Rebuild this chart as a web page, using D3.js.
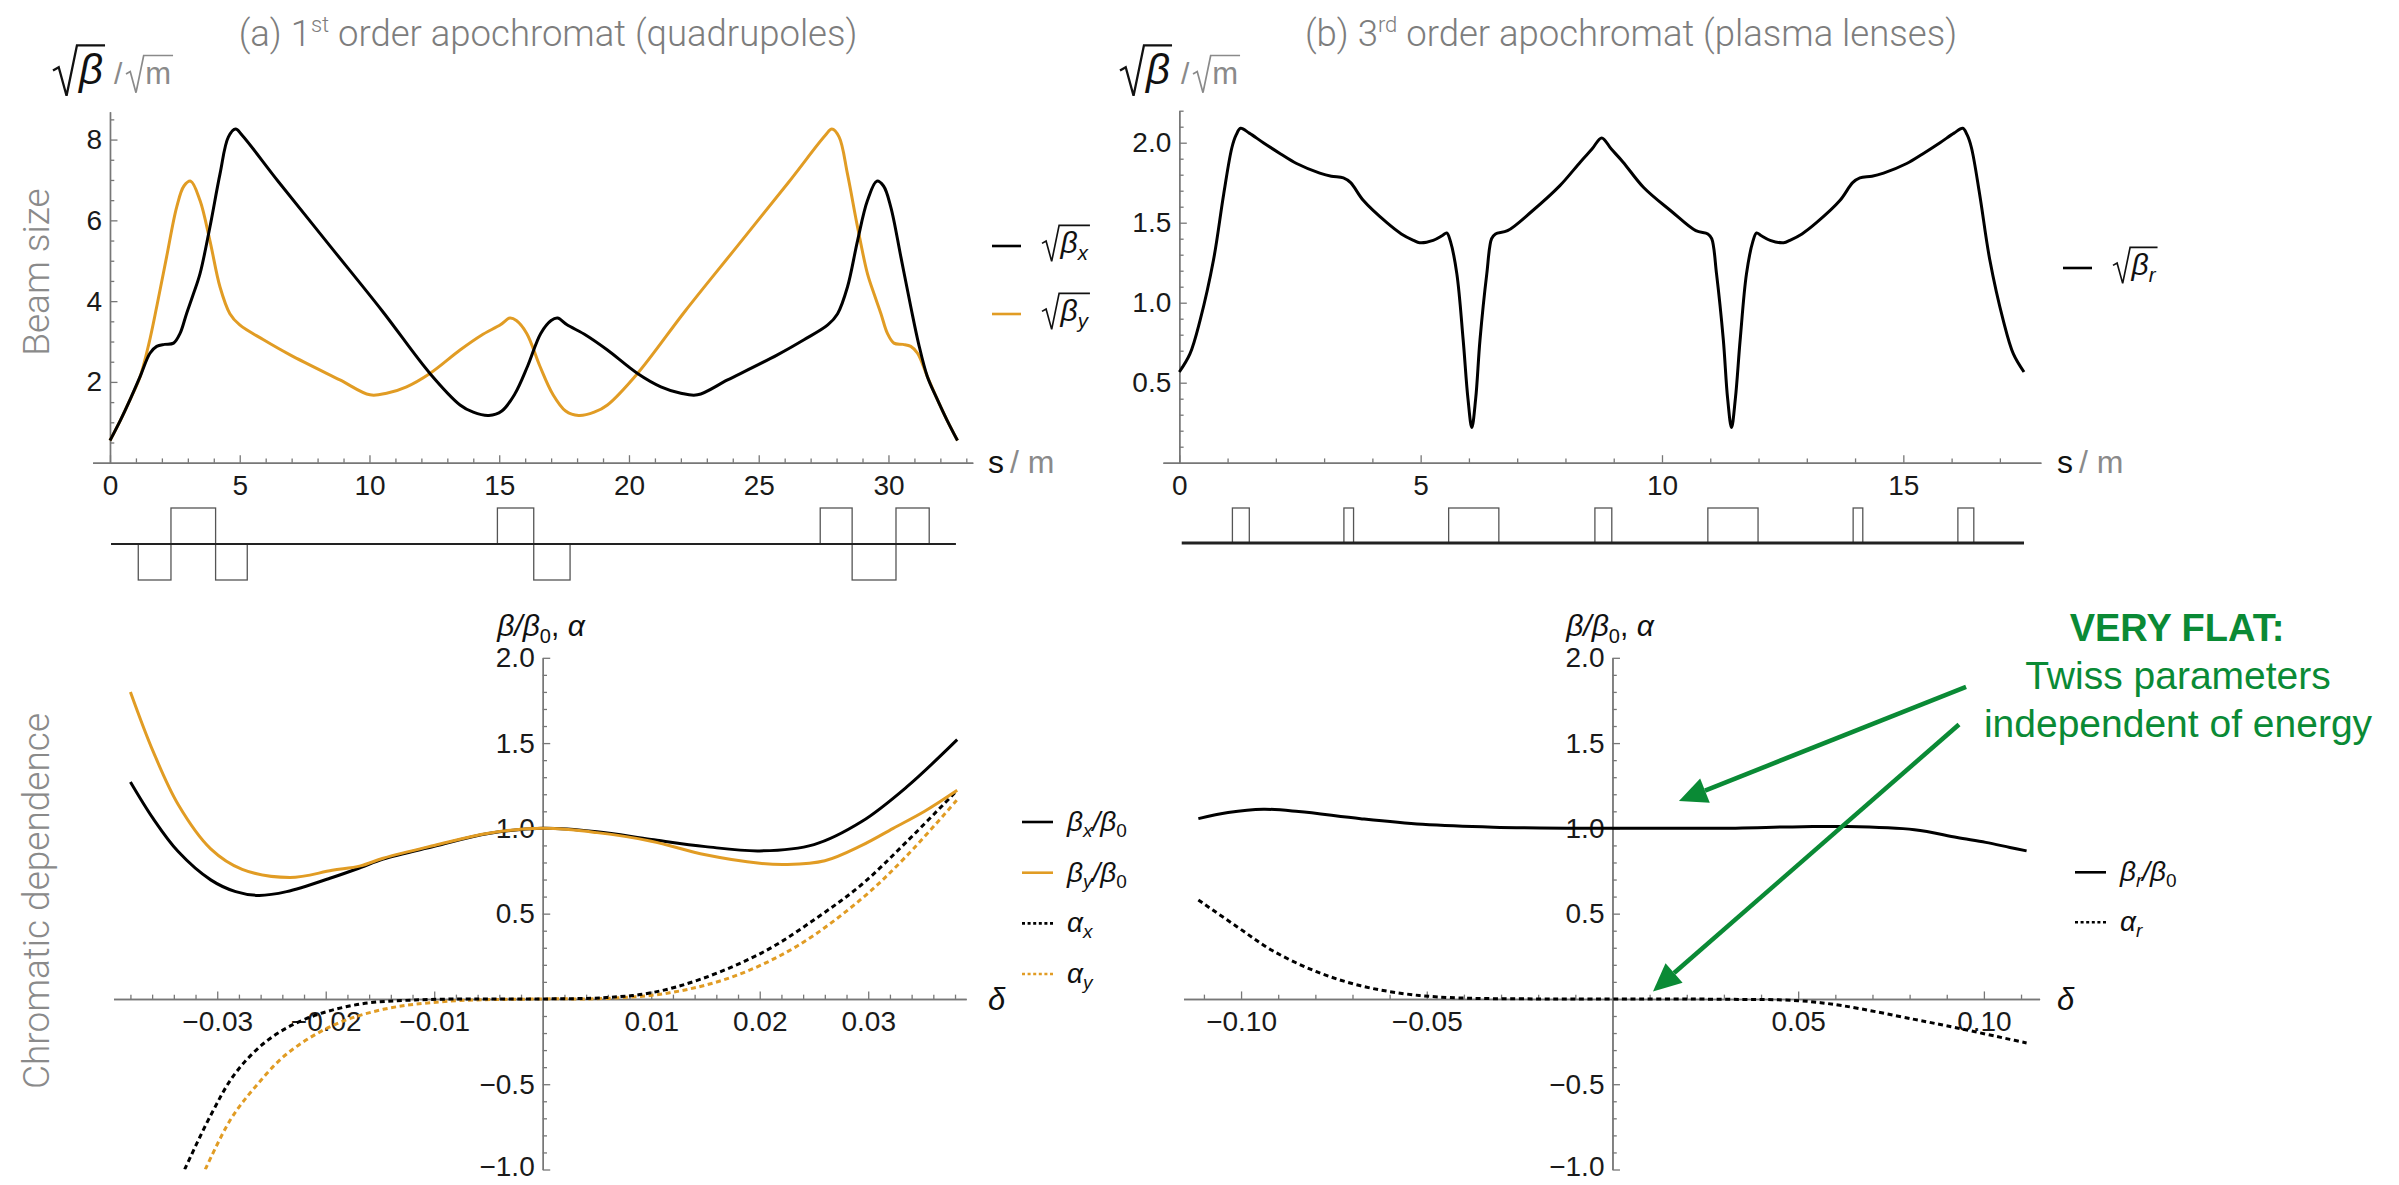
<!DOCTYPE html>
<html>
<head>
<meta charset="utf-8">
<script src="https://cdn.jsdelivr.net/npm/d3@7"></script>
<style>
  html, body { margin: 0; padding: 0; background: #fff; }
  svg { display: block; font-family: "Liberation Sans", Arial, sans-serif; }
</style>
</head>
<body>
<svg id="chart" width="2399" height="1185"></svg>
<script>
// ---- data ----
// (a) sqrt(beta) along the quadrupole lattice, [s in m, value]
const sqrtBetaXa = [[0,0.55],[0.4,1.05],[0.8,1.6],[1.16,2.13],[1.54,2.71],[1.8,2.88],[2.1,2.93],[2.45,2.96],[2.7,3.2],[2.95,3.69],[3.2,4.15],[3.47,4.68],[3.85,5.83],[4.24,7.15],[4.56,8.06],[4.84,8.26],[5.1,8.1],[6.5,6.95],[8.5,5.35],[10.5,3.75],[12.33,2.21],[13.49,1.43],[14.0,1.25],[14.6,1.17],[15.1,1.28],[15.6,1.7],[16.1,2.4],[16.6,3.2],[17.0,3.52],[17.25,3.58],[17.6,3.42],[18.36,3.15],[19.17,2.79],[20.33,2.21],[21.23,1.88],[22.0,1.72],[22.64,1.68],[23.8,2.05],[25.72,2.67],[26.76,3.05],[27.66,3.41],[28.04,3.69],[28.42,4.35],[28.81,5.5],[29.19,6.49],[29.55,6.97],[29.81,6.85],[30.09,6.33],[30.48,5.09],[30.86,3.86],[31.16,2.95],[31.5,2.13],[31.86,1.6],[32.26,1.05],[32.66,0.55]];
const sqrtBetaYa = [[0,0.55],[0.4,1.05],[0.8,1.6],[1.16,2.13],[1.5,2.95],[1.8,3.86],[2.18,5.09],[2.57,6.33],[2.85,6.85],[3.11,6.97],[3.47,6.49],[3.85,5.5],[4.24,4.35],[4.62,3.69],[5.0,3.41],[5.9,3.05],[6.94,2.67],[8.86,2.05],[10.02,1.68],[10.66,1.72],[11.43,1.88],[12.33,2.21],[13.49,2.79],[14.3,3.15],[15.06,3.42],[15.41,3.58],[15.66,3.52],[16.06,3.2],[16.56,2.4],[17.06,1.7],[17.56,1.28],[18.06,1.17],[18.66,1.25],[19.17,1.43],[20.33,2.21],[22.16,3.75],[24.16,5.35],[26.16,6.95],[27.56,8.1],[27.82,8.26],[28.1,8.06],[28.42,7.15],[28.81,5.83],[29.19,4.68],[29.46,4.15],[29.71,3.69],[29.96,3.2],[30.21,2.96],[30.56,2.93],[30.86,2.88],[31.12,2.71],[31.5,2.13],[31.86,1.6],[32.26,1.05],[32.66,0.55]];
// (b) sqrt(beta_r) along the plasma-lens lattice
const sqrtBetaRb = [[0,0.567],[0.22,0.68],[0.43,0.89],[0.71,1.27],[0.92,1.68],[1.09,1.97],[1.18,2.05],[1.27,2.09],[1.45,2.06],[1.74,2.0],[2.1,1.93],[2.43,1.87],[2.91,1.81],[3.15,1.79],[3.4,1.78],[3.55,1.75],[3.81,1.64],[4.3,1.5],[4.6,1.43],[4.85,1.39],[4.98,1.375],[5.26,1.39],[5.45,1.42],[5.54,1.436],[5.62,1.38],[5.75,1.18],[5.88,0.77],[5.98,0.4],[6.06,0.22],[6.14,0.4],[6.23,0.77],[6.37,1.18],[6.47,1.4],[6.55,1.43],[6.8,1.45],[7.3,1.57],[7.88,1.73],[8.31,1.88],[8.55,1.96],[8.75,2.03],[8.95,1.96],[9.19,1.88],[9.62,1.72],[10.2,1.57],[10.7,1.45],[10.95,1.43],[11.03,1.4],[11.13,1.18],[11.27,0.77],[11.36,0.4],[11.44,0.22],[11.52,0.4],[11.62,0.77],[11.75,1.18],[11.88,1.38],[11.96,1.436],[12.05,1.42],[12.24,1.39],[12.52,1.375],[12.65,1.39],[12.9,1.43],[13.2,1.5],[13.69,1.64],[13.95,1.75],[14.1,1.78],[14.35,1.79],[14.59,1.81],[15.07,1.87],[15.4,1.93],[15.76,2.0],[16.05,2.06],[16.23,2.09],[16.32,2.05],[16.41,1.97],[16.58,1.68],[16.79,1.27],[17.07,0.89],[17.28,0.68],[17.5,0.567]];

// lattice elements: [start s, end s, polarity]
const quadsA = [[1.09,2.35,-1],[2.35,4.07,1],[4.07,5.29,-1],[14.93,16.33,1],[16.33,17.73,-1],[27.37,28.6,1],[28.6,30.29,-1],[30.29,31.57,1]];
const lensesB = [[1.10,1.45,1],[3.41,3.61,1],[5.58,6.62,1],[8.61,8.96,1],[10.95,11.99,1],[13.96,14.16,1],[16.13,16.46,1]];
const latticeEndA = [0.04, 32.6];
const latticeEndB = [0.05, 17.5];

// chromatic dependence, [delta, value]
const betaXChromA = [[-0.038,1.272],[-0.0359,1.057],[-0.0336,0.864],[-0.0306,0.698],[-0.0283,0.629],[-0.0262,0.607],[-0.0236,0.629],[-0.0194,0.712],[-0.0168,0.77],[-0.0147,0.82],[-0.01,0.895],[-0.005,0.97],[0,1.0],[0.005,0.98],[0.01,0.935],[0.015,0.893],[0.02,0.868],[0.025,0.905],[0.0294,1.04],[0.0335,1.24],[0.0382,1.52]];
const betaYChromA = [[-0.038,1.80],[-0.0359,1.45],[-0.0336,1.14],[-0.0306,0.88],[-0.0277,0.76],[-0.0233,0.712],[-0.0194,0.754],[-0.0168,0.78],[-0.0147,0.825],[-0.01,0.9],[-0.005,0.972],[0,1.0],[0.005,0.975],[0.01,0.925],[0.015,0.845],[0.02,0.795],[0.0225,0.788],[0.026,0.81],[0.0294,0.9],[0.0323,1.0],[0.0352,1.1],[0.0382,1.223]];
const alphaXChromA = [[-0.033,-1.0],[-0.0306,-0.682],[-0.0283,-0.433],[-0.0253,-0.24],[-0.0218,-0.116],[-0.0171,-0.033],[-0.0118,-0.006],[-0.0059,0],[0,0],[0.00585,0.008],[0.01,0.036],[0.0147,0.119],[0.0206,0.284],[0.0253,0.477],[0.0294,0.671],[0.0335,0.919],[0.0382,1.223]];
const alphaYChromA = [[-0.0311,-1.0],[-0.0288,-0.71],[-0.0265,-0.516],[-0.0236,-0.323],[-0.0194,-0.157],[-0.0147,-0.061],[-0.0088,-0.014],[0,0],[0.0059,0.003],[0.0117,0.036],[0.0176,0.132],[0.0235,0.312],[0.0294,0.588],[0.0335,0.836],[0.0382,1.168]];
const betaRChromB = [[-0.1115,1.057],[-0.1035,1.093],[-0.094,1.112],[-0.0845,1.099],[-0.0678,1.057],[-0.0512,1.024],[-0.0321,1.007],[0,1.0],[0.0274,1.0],[0.0512,1.01],[0.062,1.011],[0.0813,0.992],[0.0928,0.946],[0.1005,0.918],[0.107,0.888],[0.1115,0.868]];
const alphaRChromB = [[-0.1115,0.58],[-0.101,0.422],[-0.0916,0.284],[-0.0797,0.16],[-0.0678,0.077],[-0.0559,0.03],[-0.044,0.008],[-0.02,0],[0,0],[0.03,-0.002],[0.05,-0.01],[0.062,-0.04],[0.0813,-0.12],[0.0928,-0.17],[0.107,-0.237],[0.1115,-0.258]];

// ticks
const sTicksA = [0,5,10,15,20,25,30];
const sTicksB = [0,5,10,15];
const beamTicksA = [2,4,6,8];
const beamTicksB = [0.5,1.0,1.5,2.0];
const deltaTicksA = [-0.03,-0.02,-0.01,0.01,0.02,0.03];
const deltaTicksB = [-0.10,-0.05,0.05,0.10];
const chromTicks = [-1.0,-0.5,0.5,1.0,1.5,2.0];

// annotation arrows in panel (b) data units: [tail, tip]
const flatArrows = [[[0.0952,1.83],[0.0179,1.161]],[[0.0933,1.609],[0.0109,0.044]]];

const ORANGE = "#e19c24", AXIS = "#777", GREY = "#8a8a8a", GREEN = "#0a8a35";

const svg = d3.select("#chart");

// ---- scales ----
const xA = d3.scaleLinear([-0.67, 33.25], [92.6, 972.8]);
const yA = d3.scaleLinear([0, 8.69], [462.7, 111.7]);
const xB = d3.scaleLinear([-0.34, 17.85], [1162.9, 2040.9]);
const yB = d3.scaleLinear([0, 2.2], [462.7, 110.7]);
const dA = d3.scaleLinear([-0.03956, 0.03903], [113.5, 966.2]);
const dB = d3.scaleLinear([-0.1155, 0.115], [1183.5, 2039.6]);
const cY = d3.scaleLinear([-1, 2], [1169.5, 657.8]);
const latA = d3.scaleLinear([-1, 1], [580, 508]);
const latB = d3.scaleLinear([0, 1], [543, 508]);

function minorsOf(lo, hi, step, majors) {
  return d3.range(Math.round(lo / step), Math.round(hi / step) + 1)
    .map(i => +(i * step).toFixed(4))
    .filter(v => v !== 0 && !majors.some(m => Math.abs(m - v) < step / 10));
}

function styleAxis(g, size) {
  g.select(".domain").attr("stroke", AXIS).attr("stroke-width", 1.4);
  g.selectAll(".tick line").attr("stroke", AXIS).attr("stroke-width", 1.3);
  g.selectAll(".tick text").attr("font-size", size).attr("fill", "#1a1a1a")
    .attr("font-family", "'Liberation Sans', Arial, sans-serif");
  g.attr("font-family", null).attr("font-size", null);
}

function xAxis(scale, yPos, majors, minors, fmt) {
  const g1 = svg.append("g").attr("transform", `translate(0,${yPos})`)
    .call(d3.axisBottom(scale).tickValues(minors).tickSize(-4.3).tickSizeOuter(0).tickFormat(""));
  styleAxis(g1, 28);
  const g2 = svg.append("g").attr("transform", `translate(0,${yPos})`)
    .call(d3.axisBottom(scale).tickValues(majors).tickSize(-7.5).tickSizeOuter(0).tickPadding(12).tickFormat(d3.format(fmt)));
  styleAxis(g2, 28);
}

function yAxis(scale, xPos, majors, minors, fmt) {
  const g1 = svg.append("g").attr("transform", `translate(${xPos},0)`)
    .call(d3.axisLeft(scale).tickValues(minors).tickSize(-4.3).tickSizeOuter(0).tickFormat(""));
  styleAxis(g1, 28);
  const g2 = svg.append("g").attr("transform", `translate(${xPos},0)`)
    .call(d3.axisLeft(scale).tickValues(majors).tickSize(-7.5).tickSizeOuter(0).tickPadding(8).tickFormat(d3.format(fmt)));
  styleAxis(g2, 28);
  return g2;
}

// radical sign drawn as a path over a text radicand
function sqrtText(g, x0, base, size, color, build) {
  const signW = size * 0.62;
  const t = g.append("text").attr("x", x0 + signW).attr("y", base)
    .attr("font-size", size).attr("fill", color);
  build(t, size);
  const w = t.node().getComputedTextLength();
  const top = base - size * 0.92, bot = base + size * 0.28;
  g.append("path")
    .attr("d", `M${x0},${base - size * 0.32}L${x0 + signW * 0.22},${base - size * 0.4}L${x0 + signW * 0.52},${bot}L${x0 + signW * 0.92},${top}H${x0 + signW + w + 2}`)
    .attr("fill", "none").attr("stroke", color).attr("stroke-width", size * 0.055)
    .attr("stroke-linejoin", "miter");
  return x0 + signW + w;
}

function betaSub(t, size, sub) {
  t.append("tspan").attr("font-style", "italic").text("β");
  t.append("tspan").attr("font-style", "italic").attr("font-size", size * 0.68).attr("dy", size * 0.22).text(sub);
}

// ---- titles ----
function title(cx, lead, sup, rest) {
  const t = svg.append("text").attr("x", cx).attr("y", 46).attr("text-anchor", "middle")
    .attr("font-family", "Roboto, 'Liberation Sans', sans-serif").attr("font-weight", 300)
    .attr("font-size", 36.5).attr("fill", "#7d7d7d");
  t.append("tspan").text(lead);
  t.append("tspan").attr("font-size", 22).attr("dy", -14).text(sup);
  t.append("tspan").attr("dy", 14).text(rest);
}
title(548, "(a)  1", "st", " order apochromat (quadrupoles)");
title(1631, "(b)  3", "rd", " order apochromat (plasma lenses)");

// ---- row labels ----
[["Beam size", 272], ["Chromatic dependence", 901]].forEach(([txt, cy]) => {
  svg.append("text").attr("transform", `translate(49,${cy}) rotate(-90)`)
    .attr("text-anchor", "middle").attr("font-size", 37).attr("fill", GREY)
    .attr("font-family", "Roboto, 'Liberation Sans', sans-serif").attr("font-weight", 300)
    .text(txt);
});

// ---- top panels ----
function topUnitLabel(x0) {
  const g = svg.append("g");
  sqrtText(g, x0, 84, 42, "#111", (t) => t.append("tspan").attr("font-style", "italic").text("β"));
  g.append("text").attr("x", x0 + 61).attr("y", 84).attr("font-size", 30).attr("fill", GREY).text("/");
  sqrtText(g, x0 + 73, 84, 31, GREY, (t) => t.text("m"));
}
function sUnitLabel(x0, y0) {
  const t = svg.append("text").attr("x", x0).attr("y", y0 + 10).attr("font-size", 32);
  t.append("tspan").attr("fill", "#111").text("s");
  t.append("tspan").attr("fill", GREY).attr("dx", 6).text("/ m");
}

xAxis(xA, yA(0), sTicksA, minorsOf(0, 33, 1, sTicksA), "d");
yAxis(yA, xA(0), beamTicksA, minorsOf(0, 8.5, 0.5, beamTicksA), "d");
xAxis(xB, yB(0), sTicksB, minorsOf(0, 17, 1, sTicksB), "d");
yAxis(yB, xB(0), beamTicksB, minorsOf(0, 2.2, 0.1, beamTicksB), ".1f");
topUnitLabel(53);
topUnitLabel(1120);
sUnitLabel(988, yA(0));
sUnitLabel(2057, yB(0));

const lineA = d3.line().x(d => xA(d[0])).y(d => yA(d[1])).curve(d3.curveCatmullRom.alpha(0.5));
const lineB = d3.line().x(d => xB(d[0])).y(d => yB(d[1])).curve(d3.curveCatmullRom.alpha(0.5));
svg.append("path").datum(sqrtBetaYa).attr("d", lineA).attr("fill", "none").attr("stroke", ORANGE).attr("stroke-width", 3);
svg.append("path").datum(sqrtBetaXa).attr("d", lineA).attr("fill", "none").attr("stroke", "#000").attr("stroke-width", 3);
svg.append("path").datum(sqrtBetaRb).attr("d", lineB).attr("fill", "none").attr("stroke", "#000").attr("stroke-width", 3);

// top legends
function topLegend(x0, rows) {
  rows.forEach(([color, sub, yc]) => {
    svg.append("line").attr("x1", x0).attr("x2", x0 + 29).attr("y1", yc).attr("y2", yc)
      .attr("stroke", color).attr("stroke-width", 2.6);
    sqrtText(svg.append("g"), x0 + 50, yc + 7, 30, "#111", (t, s) => betaSub(t, s, sub));
  });
}
topLegend(992, [["#000", "x", 246], [ORANGE, "y", 314]]);
topLegend(2063, [["#000", "r", 268]]);

// lattices
function lattice(xs, ys, elems, ends, baseW) {
  const g = svg.append("g");
  g.selectAll("rect").data(elems).join("rect")
    .attr("x", d => xs(d[0])).attr("width", d => xs(d[1]) - xs(d[0]))
    .attr("y", d => Math.min(ys(0), ys(d[2]))).attr("height", d => Math.abs(ys(d[2]) - ys(0)))
    .attr("fill", "none").attr("stroke", "#555").attr("stroke-width", 1.3);
  g.append("line").attr("x1", xs(ends[0])).attr("x2", xs(ends[1]))
    .attr("y1", ys(0)).attr("y2", ys(0)).attr("stroke", "#222").attr("stroke-width", baseW);
}
lattice(xA, latA, quadsA, latticeEndA, 2.2);
lattice(xB, latB, lensesB, latticeEndB, 3);

// ---- bottom panels ----
svg.append("defs").selectAll("clipPath").data([["clipA", dA], ["clipB", dB]]).join("clipPath")
  .attr("id", d => d[0])
  .append("rect").attr("x", d => d[1].range()[0]).attr("width", d => d[1].range()[1] - d[1].range()[0])
  .attr("y", cY(2)).attr("height", cY(-1) - cY(2));

function chromLabel(cx) {
  const t = svg.append("text").attr("x", cx).attr("y", 636).attr("text-anchor", "middle")
    .attr("font-size", 30).attr("fill", "#111");
  t.append("tspan").attr("font-style", "italic").text("β/β");
  t.append("tspan").attr("font-size", 20).attr("dy", 7).text("0");
  t.append("tspan").attr("dy", -7).text(", ");
  t.append("tspan").attr("font-style", "italic").text("α");
}
function deltaLabel(x0) {
  svg.append("text").attr("x", x0).attr("y", cY(0) + 11).attr("font-size", 31)
    .attr("font-style", "italic").attr("fill", "#111").text("δ");
}

xAxis(dA, cY(0), deltaTicksA, minorsOf(-0.038, 0.038, 0.002, deltaTicksA), ".2f");
const yAxA = yAxis(cY, dA(0), chromTicks, minorsOf(-1, 2, 0.1, chromTicks), ".1f");
xAxis(dB, cY(0), deltaTicksB, minorsOf(-0.11, 0.11, 0.01, deltaTicksB), ".2f");
const yAxB = yAxis(cY, dB(0), chromTicks, minorsOf(-1, 2, 0.1, chromTicks), ".1f");
// keep the lowest label inside the frame
[yAxA, yAxB].forEach(g => g.selectAll(".tick text").filter(d => d === -1).attr("dy", "0.2em"));
chromLabel(541);
chromLabel(1610);
deltaLabel(988);
deltaLabel(2057);

const chromLine = (xs) => d3.line().x(d => xs(d[0])).y(d => cY(d[1])).curve(d3.curveCatmullRom.alpha(0.5));
const DOT = "5,3.6";
const seriesA = [
  [alphaYChromA, ORANGE, DOT], [alphaXChromA, "#000", DOT],
  [betaXChromA, "#000", null], [betaYChromA, ORANGE, null]
];
const gA = svg.append("g").attr("clip-path", "url(#clipA)");
seriesA.forEach(([data, color, dash]) => {
  gA.append("path").datum(data).attr("d", chromLine(dA)).attr("fill", "none")
    .attr("stroke", color).attr("stroke-width", 3).attr("stroke-dasharray", dash);
});
const gB = svg.append("g").attr("clip-path", "url(#clipB)");
[[alphaRChromB, "#000", DOT], [betaRChromB, "#000", null]].forEach(([data, color, dash]) => {
  gB.append("path").datum(data).attr("d", chromLine(dB)).attr("fill", "none")
    .attr("stroke", color).attr("stroke-width", 3).attr("stroke-dasharray", dash);
});

// bottom legends
function chromLegend(x0, rows) {
  rows.forEach(([color, dash, kind, sub, yc]) => {
    svg.append("line").attr("x1", x0).attr("x2", x0 + 31).attr("y1", yc).attr("y2", yc)
      .attr("stroke", color).attr("stroke-width", 2.6).attr("stroke-dasharray", dash ? "3,2.6" : null);
    const t = svg.append("text").attr("x", x0 + 45).attr("y", yc + 9).attr("font-size", 28).attr("fill", "#111");
    t.append("tspan").attr("font-style", "italic").text(kind);
    t.append("tspan").attr("font-style", "italic").attr("font-size", 19).attr("dy", 6).text(sub);
    if (kind === "β") {
      t.append("tspan").attr("dy", -6).attr("font-style", "italic").text("/β");
      t.append("tspan").attr("font-size", 19).attr("dy", 6).text("0");
    }
  });
}
chromLegend(1022, [["#000", false, "β", "x", 822], [ORANGE, false, "β", "y", 872.7], ["#000", true, "α", "x", 923.4], [ORANGE, true, "α", "y", 974]]);
chromLegend(2075, [["#000", false, "β", "r", 872.3], ["#000", true, "α", "r", 922.2]]);

// ---- annotation ----
const ann = svg.append("g").attr("fill", GREEN).attr("text-anchor", "middle");
ann.append("text").attr("x", 2177).attr("y", 641).attr("font-size", 38).attr("font-weight", "bold").text("VERY FLAT:");
ann.append("text").attr("x", 2178).attr("y", 689).attr("font-size", 39).text("Twiss parameters");
ann.append("text").attr("x", 2178).attr("y", 737).attr("font-size", 39).text("independent of energy");

flatArrows.forEach(([tail, tip]) => {
  const x1 = dB(tail[0]), y1 = cY(tail[1]), x2 = dB(tip[0]), y2 = cY(tip[1]);
  const ang = Math.atan2(y2 - y1, x2 - x1), L = 28, W = 13;
  const bx = x2 - L * Math.cos(ang), by = y2 - L * Math.sin(ang);
  svg.append("line").attr("x1", x1).attr("y1", y1).attr("x2", bx).attr("y2", by)
    .attr("stroke", GREEN).attr("stroke-width", 4.5);
  svg.append("path").attr("fill", GREEN)
    .attr("d", `M${x2},${y2}L${bx - W * Math.sin(ang)},${by + W * Math.cos(ang)}L${bx + W * Math.sin(ang)},${by - W * Math.cos(ang)}Z`);
});
</script>
</body>
</html>
